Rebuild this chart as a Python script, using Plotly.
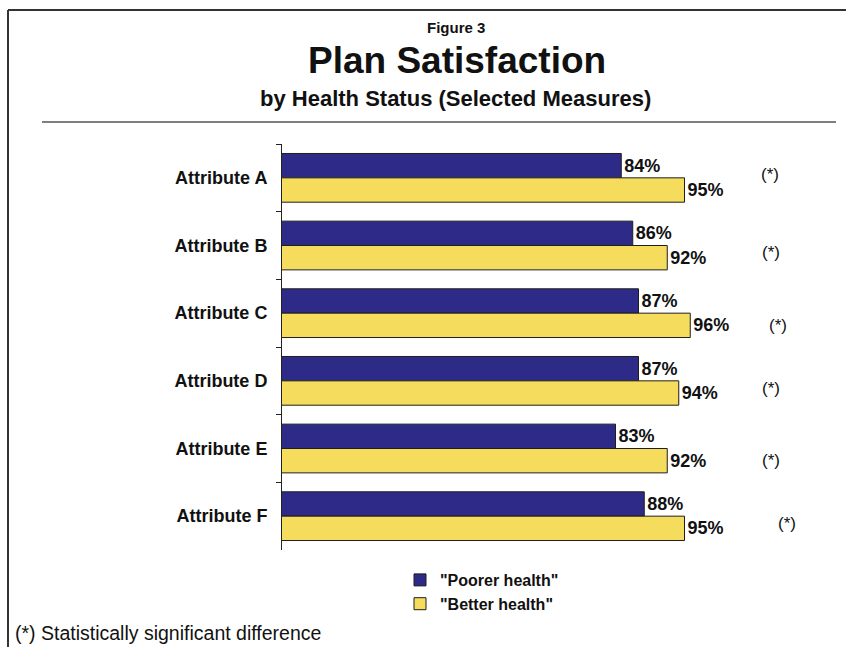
import plotly.graph_objects as go

# Survey results: share satisfied with the plan, by self-reported health status
attributes = ["Attribute A", "Attribute B", "Attribute C",
              "Attribute D", "Attribute E", "Attribute F"]
poorer_health = [84, 86, 87, 87, 83, 88]
better_health = [95, 92, 96, 94, 92, 95]
significant = [True, True, True, True, True, True]

# Figure geometry (pixels)
FIG_W, FIG_H = 846, 647
PLOT_L, PLOT_R = 282, 800
PLOT_T, PLOT_B = 144, 550
FONT = "Liberation Sans, Arial, Helvetica, sans-serif"

BLUE = "#2D2A88"
YELLOW = "#F6DC5C"
OUTLINE = "#1E1E1E"
INK = "#111111"


def px_x(x):
    return (x - PLOT_L) / (PLOT_R - PLOT_L)


def px_y(y):
    return (PLOT_B - y) / (PLOT_B - PLOT_T)


def label_font(size, bold=True):
    return dict(family=FONT, size=size, color=INK, weight="bold" if bold else "normal")


fig = go.Figure()
fig.add_trace(go.Bar(
    y=attributes, x=poorer_health, orientation="h",
    name='"Poorer health"',
    marker=dict(color=BLUE, line=dict(color=OUTLINE, width=1)),
    text=[f"{v}%" for v in poorer_health], textposition="outside",
    textfont=label_font(18), constraintext="none", cliponaxis=False,
))
fig.add_trace(go.Bar(
    y=attributes, x=better_health, orientation="h",
    name='"Better health"',
    marker=dict(color=YELLOW, line=dict(color=OUTLINE, width=1)),
    text=[f"{v}%" for v in better_health], textposition="outside",
    textfont=label_font(18), constraintext="none", cliponaxis=False,
))

annotations = [
    dict(text="Figure 3", x=px_x(456), y=px_y(27), font=label_font(15)),
    dict(text="Plan Satisfaction", x=px_x(457), y=px_y(60), font=label_font(37)),
    dict(text="by Health Status (Selected Measures)", x=px_x(455), y=px_y(98),
         font=label_font(22)),
    dict(text="(*) Statistically significant difference", x=px_x(13), y=px_y(633),
         xanchor="left", font=label_font(19.5, bold=False)),
]
for a in annotations:
    a.update(xref="paper", yref="paper", showarrow=False, yanchor="middle")
    a.setdefault("xanchor", "center")

# Significance markers to the right of each pair of bars
sig_x_px = [770, 771, 778, 771, 771, 787]
sig_shift_px = [-3, 7, 12, 8, 12, 7]
for cat, flag, xp, sh in zip(attributes, significant, sig_x_px, sig_shift_px):
    if flag:
        annotations.append(dict(
            text="(*)", x=px_x(xp), y=cat, xref="paper", yref="y", yshift=-sh,
            xanchor="center", yanchor="middle", showarrow=False,
            font=label_font(17, bold=False)))

shapes = [
    # frame (top and left edges)
    dict(type="line", xref="paper", yref="paper", x0=px_x(8), x1=px_x(846),
         y0=px_y(10), y1=px_y(10), line=dict(color="#333333", width=2)),
    dict(type="line", xref="paper", yref="paper", x0=px_x(8), x1=px_x(8),
         y0=px_y(10), y1=px_y(647), line=dict(color="#333333", width=2)),
    # rule under the headings
    dict(type="line", xref="paper", yref="paper", x0=px_x(42), x1=px_x(836),
         y0=px_y(122), y1=px_y(122), line=dict(color="#555555", width=1.5)),
]

fig.update_layout(
    width=FIG_W, height=FIG_H,
    margin=dict(l=PLOT_L, r=FIG_W - PLOT_R, t=PLOT_T, b=FIG_H - PLOT_B),
    paper_bgcolor="white", plot_bgcolor="white",
    barmode="group", bargap=0.28, bargroupgap=0,
    font=dict(family=FONT, color=INK),
    xaxis=dict(range=[25, 25 + (PLOT_R - PLOT_L) / 5.75], visible=False,
               showgrid=False, zeroline=False),
    yaxis=dict(autorange="reversed", showline=True, linecolor="#222222", linewidth=1,
               ticks="outside", tickson="boundaries", ticklen=5, tickcolor="#222222",
               ticklabelstandoff=10, showgrid=False, automargin=False,
               tickfont=label_font(18)),
    legend=dict(x=px_x(400), y=px_y(563), xanchor="left", yanchor="top",
                bgcolor="rgba(0,0,0,0)", font=label_font(16), tracegroupgap=0),
    showlegend=True,
    annotations=annotations,
    shapes=shapes,
)

fig.write_html("out.html")
